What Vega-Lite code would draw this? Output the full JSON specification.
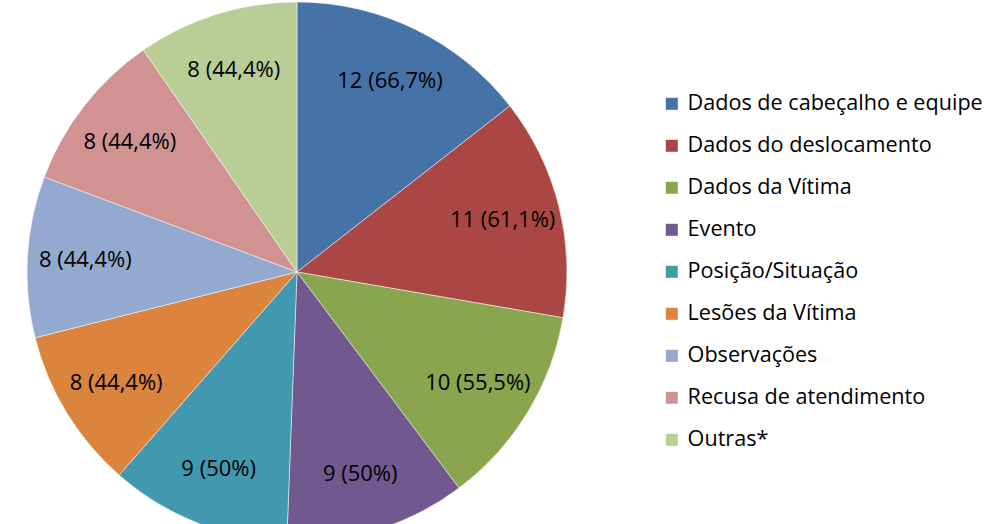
{
  "$schema": "https://vega.github.io/schema/vega-lite/v6.json",
  "width": 594,
  "height": 544,
  "padding": 0,
  "autosize": {"type": "pad"},
  "background": "white",
  "config": {"view": {"stroke": null}, "font": "Open Sans"},
  "data": {
    "values": [
      {"cat": "Dados de cabeçalho e equipe", "n": 12, "label": "12 (66,7%)", "ord": 1},
      {"cat": "Dados do deslocamento", "n": 11, "label": "11 (61,1%)", "ord": 2},
      {"cat": "Dados da Vítima", "n": 10, "label": "10 (55,5%)", "ord": 3},
      {"cat": "Evento", "n": 9, "label": "9 (50%)", "ord": 4},
      {"cat": "Posição/Situação", "n": 9, "label": "9 (50%)", "ord": 5},
      {"cat": "Lesões da Vítima", "n": 8, "label": "8 (44,4%)", "ord": 6},
      {"cat": "Observações", "n": 8, "label": "8 (44,4%)", "ord": 7},
      {"cat": "Recusa de atendimento", "n": 8, "label": "8 (44,4%)", "ord": 8},
      {"cat": "Outras*", "n": 8, "label": "8 (44,4%)", "ord": 9}
    ]
  },
  "encoding": {
    "theta": {"field": "n", "type": "quantitative", "stack": true},
    "order": {"field": "ord", "type": "quantitative"}
  },
  "layer": [
    {
      "mark": {"type": "arc", "outerRadius": 270, "stroke": "white", "strokeWidth": 0.5},
      "encoding": {
        "color": {
          "field": "cat",
          "type": "nominal",
          "scale": {
            "domain": ["Dados de cabeçalho e equipe", "Dados do deslocamento", "Dados da Vítima", "Evento", "Posição/Situação", "Lesões da Vítima", "Observações", "Recusa de atendimento", "Outras*"],
            "range": ["#4572A7", "#AA4643", "#89A54E", "#71588F", "#4198AF", "#DB843D", "#93A9CF", "#D19392", "#B9CD96"]
          },
          "legend": {
            "title": null,
            "orient": "none",
            "legendX": 661,
            "legendY": 93,
            "symbolType": "square",
            "symbolSize": 144,
            "symbolStrokeWidth": 0,
            "labelFontSize": 21.6,
            "labelFont": "Open Sans",
            "labelColor": "#000000",
            "labelLimit": 400,
            "labelOffset": 5,
            "rowPadding": 19
          }
        }
      }
    },
    {
      "mark": {"type": "text", "radius": 212, "fontSize": 22, "font": "Open Sans", "color": "#000000"},
      "encoding": {"text": {"field": "label", "type": "nominal"}}
    }
  ]
}
